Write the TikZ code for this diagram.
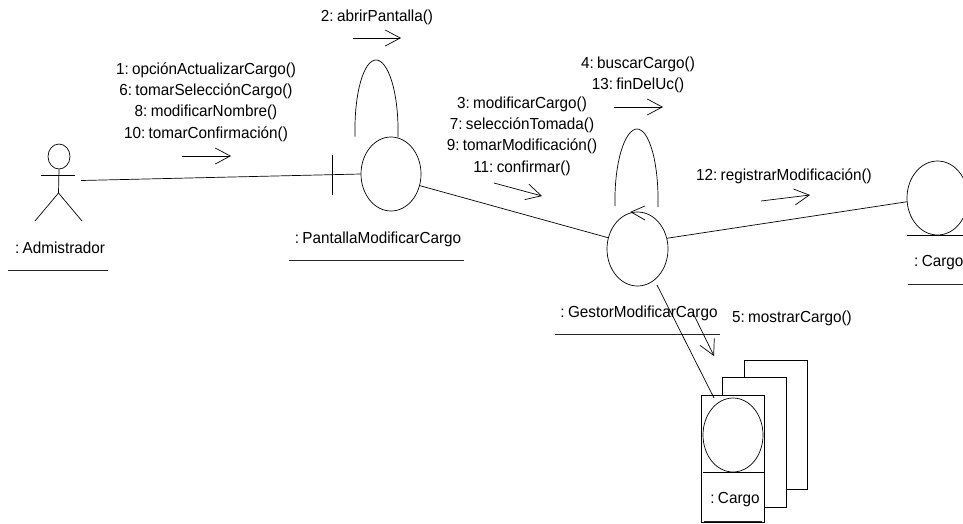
\documentclass[tikz,border=0pt]{standalone}
\usepackage{fontspec}
\setmainfont[FakeStretch=0.955,WordSpace=0.45]{Liberation Sans}
\usetikzlibrary{shapes.geometric,arrows.meta}
\tikzset{
  obj/.style={draw,ellipse,inner sep=0pt,minimum width=60pt,minimum height=74pt,line width=.7pt},
  lbl/.style={inner sep=0pt,align=center,font=\fontsize{16}{21.3}\selectfont,text=black},
  ln/.style={line width=.7pt},
  msg/.style={line width=.7pt,-{Straight Barb[length=15pt,width=16pt,line width=.7pt]}},
  under/.style={line width=.7pt,black!85},
  bx/.style={draw,line width=.7pt,fill=white,inner sep=0pt}
}
\begin{document}
\begin{tikzpicture}[x=1pt,y=-1pt]
\useasboundingbox (0,0) rectangle (963,523);
\fill[white] (0,0) rectangle (963,523);
\clip (0,0) rectangle (963,523);

% actor
\node[draw,ellipse,inner sep=0pt,minimum width=22pt,minimum height=25pt,line width=.7pt] (head) at (59,156.5) {};
\coordinate (armL) at (41,175.5);
\coordinate (armR) at (75,175.5);
\coordinate (hip) at (58.5,193);
\coordinate (legL) at (35,221);
\coordinate (legR) at (82,221);
\draw[ln] (head.south) -- (hip) -- (legL);
\draw[ln] (hip) -- (legR);
\draw[ln] (armL) -- (armR);
\node[lbl] (adminL) at (60,248) {: Admistrador};
\coordinate (adminU1) at (8,270);
\coordinate (adminU2) at (108,270);
\draw[under] (adminU1) -- (adminU2);

% pantalla
\node[obj] (pant) at (391,174) {};
\coordinate (tickT) at (332,155);
\coordinate (tickB) at (332,195);
\draw[ln] (tickT) -- (tickB);
\coordinate (actorEnd) at (81,180.5);
\draw[ln] (actorEnd) -- (pant.west);
\coordinate (pl1) at (355,136.5);
\coordinate (pl2) at (398,137);
\draw[ln] (pl1) .. controls (354,92) and (364,60) .. (376,60) .. controls (388,60) and (399,92) .. (pl2);
\node[lbl] (pantL) at (378,239) {: PantallaModificarCargo};
\coordinate (pantU1) at (289,260);
\coordinate (pantU2) at (464,260);
\draw[under] (pantU1) -- (pantU2);

% gestor
\node[obj,minimum width=61pt] (gest) at (637.5,249) {};
\draw[ln] (pant.-22) -- (gest.159);
\coordinate (gl1) at (615,206);
\coordinate (gl2) at (658,207);
\draw[ln] (gl1) .. controls (614,162) and (625,129) .. (637,129) .. controls (649,129) and (659,162) .. (gl2);
\coordinate (gbA) at (631,212);
\coordinate (gbB) at (645,206);
\coordinate (gbC) at (645,220);
\draw[ln] (gbB) -- (gbA) -- (gbC);
\node[lbl] (gestL) at (639,313) {: GestorModificarCargo};
\coordinate (gestU1) at (555,334);
\coordinate (gestU2) at (720,334);
\draw[under] (gestU1) -- (gestU2);

% cargo right
\node[obj,minimum width=61pt] (cargo) at (937.5,198) {};
\draw[ln] (gest.20) -- (cargo.187);
\coordinate (cargoB1) at (907,235);
\coordinate (cargoB2) at (963,235);
\draw[ln] (cargoB1) -- (cargoB2);
\node[lbl,anchor=west] (cargoL) at (914,263) {: Cargo};
\coordinate (cargoU1) at (908,284);
\coordinate (cargoU2) at (963,284);
\draw[under] (cargoU1) -- (cargoU2);

% multi-object
\node[bx,anchor=north west,minimum width=63pt,minimum height=129pt] (mB) at (744,360) {};
\node[bx,anchor=north west,minimum width=64pt,minimum height=130pt] (mM) at (722,377) {};
\node[bx,anchor=north west,minimum width=63pt,minimum height=127pt] (mF) at (701,395) {};
\node[draw,ellipse,inner sep=0pt,minimum width=60pt,minimum height=74pt,line width=.7pt] (mE) at (733,435) {};
\coordinate (mS1) at (703,472);
\coordinate (mS2) at (764,472);
\draw[ln] (mS1) -- (mS2);
\node[lbl] (mL) at (735,500) {: Cargo};
\coordinate (mU1) at (704,521);
\coordinate (mU2) at (762,521);
\draw[under] (mU1) -- (mU2);
\coordinate (g5) at (657,285);
\coordinate (m5) at (714,398);
\draw[ln] (g5) -- (m5);

% messages
\node[lbl] (m2) at (377,17) {2: abrirPantalla()};
\coordinate (a2s) at (353,38); \coordinate (a2e) at (401,38);
\draw[msg] (a2s) -- (a2e);
\node[lbl] (m1) at (206,102) {1: opciónActualizarCargo()\\6: tomarSelecciónCargo()\\8: modificarNombre()\\10: tomarConfirmación()};
\coordinate (a1s) at (182,156); \coordinate (a1e) at (231,156);
\draw[msg] (a1s) -- (a1e);
\node[lbl] (m3) at (522,136) {3: modificarCargo()\\7: selecciónTomada()\\9: tomarModificación()\\11: confirmar()};
\coordinate (a3s) at (494,183); \coordinate (a3e) at (542,196);
\draw[msg] (a3s) -- (a3e);
\node[lbl] (m4) at (638,75) {4: buscarCargo()\\13: finDelUc()};
\coordinate (a4s) at (614,107); \coordinate (a4e) at (663,107);
\draw[msg] (a4s) -- (a4e);
\node[lbl] (m12) at (784,176) {12: registrarModificación()};
\coordinate (a12s) at (761,201); \coordinate (a12e) at (810,195);
\draw[msg] (a12s) -- (a12e);
\node[lbl] (m5t) at (792,318) {5: mostrarCargo()};
\coordinate (a5s) at (693,313); \coordinate (a5e) at (714,356);
\draw[msg] (a5s) -- (a5e);
\end{tikzpicture}
\end{document}
